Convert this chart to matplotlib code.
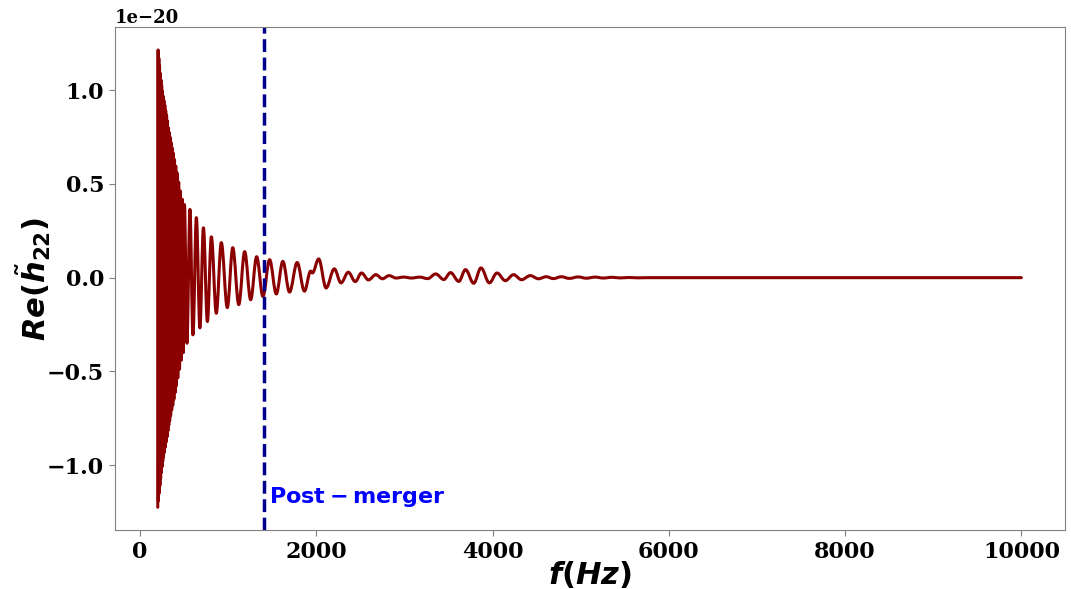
import matplotlib
matplotlib.use("Agg")
import matplotlib.pyplot as plt
from matplotlib.path import Path
from matplotlib.patches import PathPatch
import numpy as np

# Re(h22) extrema (peaks/troughs), values in units of 1e-20
freq_hz = [
    200, 204, 208, 212, 216, 220, 224, 228, 232, 236, 240, 244, 248, 252, 256,
    260, 265, 270, 275, 280, 285, 290, 295, 300, 305, 310, 315, 320, 325, 330,
    335, 340, 346, 352, 358, 364, 370, 376, 383, 390, 397, 404, 411, 418,
    427, 437, 447, 457, 468, 479, 490, 503,
    531, 565, 599, 638, 678, 718, 763, 808, 864, 921, 989, 1051, 1119, 1186,
    1254, 1322, 1393, 1469, 1545, 1619, 1695, 1782, 1864, 1935, 1955, 2026,
    2110, 2203, 2279, 2362, 2441, 2512, 2591, 2675, 2749, 2825, 2904, 2990,
    3080, 3170, 3265, 3353, 3446, 3522, 3616, 3692, 3785, 3868, 3963, 4049,
    4144, 4237, 4328, 4426, 4520, 4607, 4689, 4780, 4870, 4972, 5062, 5164,
    5254, 5356, 5446, 5548, 5650, 5763, 10000,
]
re_h22 = [
    -1.225, 1.215, -1.19, 1.17, -1.15, 1.13, -1.11, 1.09, -1.07, 1.055, -1.04,
    1.025, -1.01, 0.995, -0.98, 0.97, -0.957, 0.945, -0.932, 0.92, -0.905,
    0.89, -0.877, 0.865, -0.85, 0.835, -0.818, 0.80, -0.787, 0.775, -0.762,
    0.75, -0.735, 0.72, -0.705, 0.692, -0.68, 0.665, -0.648, 0.63, -0.613,
    0.595, -0.578, 0.56,
    -0.535, 0.51, -0.488, 0.462, -0.44, 0.418, -0.40, 0.39,
    -0.35, 0.364, -0.305, 0.32, -0.268, 0.266, -0.234, 0.218, -0.19, 0.187,
    -0.16, 0.16, -0.144, 0.139, -0.118, 0.112, -0.10, 0.096, -0.087, 0.087,
    -0.077, 0.081, -0.072, 0.035, 0.025, 0.10,
    -0.055, 0.047, -0.028, 0.029, -0.021, 0.025, -0.012, 0.016, -0.006, 0.011,
    -0.002, 0.003, -0.002, 0.003, -0.005, 0.02, -0.01, 0.027, -0.02, 0.043,
    -0.03, 0.052, -0.028, 0.025, -0.016, 0.016, -0.011, 0.011, -0.006, 0.005,
    -0.005, 0.005, -0.004, 0.004, -0.003, 0.003, -0.002, 0.002, -0.0015,
    0.001, -0.001, 0.0, 0.0,
]
f_merger = 1400

plt.rcParams['font.family'] = 'serif'
plt.rcParams['font.weight'] = 'bold'

fig = plt.figure(figsize=(10.71, 5.89), dpi=100)
ax = fig.add_axes([0.107, 0.100, 0.887, 0.854])

# smooth curve through the extrema (flat tangent at every peak/trough)
x = np.array(freq_hz, dtype=float)
y = np.array(re_h22) * 1e-20
verts = [(x[0], y[0])]
codes = [Path.MOVETO]
k = 0.36
for i in range(1, len(x)):
    dx = x[i] - x[i - 1]
    verts += [(x[i - 1] + k * dx, y[i - 1]), (x[i] - k * dx, y[i]), (x[i], y[i])]
    codes += [Path.CURVE4] * 3
ax.add_patch(PathPatch(Path(verts, codes), fill=False, edgecolor='darkred',
                       lw=2.2, joinstyle='round', capstyle='round'))
ax.autoscale_view()

ax.axvline(f_merger, color='darkblue', ls='--', lw=2.5)
ax.text(f_merger + 60, -1.2e-20, r'$\bf{Post-merger}$', color='blue', fontsize=16)

ax.set_xlabel(r'$\boldsymbol{f(Hz)}$', fontsize=22, labelpad=-2)
ax.set_ylabel(r'$\boldsymbol{Re(\tilde{h}_{22})}$', fontsize=22, labelpad=-4)

ax.tick_params(labelsize=16, color='gray', length=4)
ax.yaxis.get_offset_text().set_fontsize(13)
for s in ax.spines.values():
    s.set_color('gray')

fig.savefig('out.png', dpi=100)
